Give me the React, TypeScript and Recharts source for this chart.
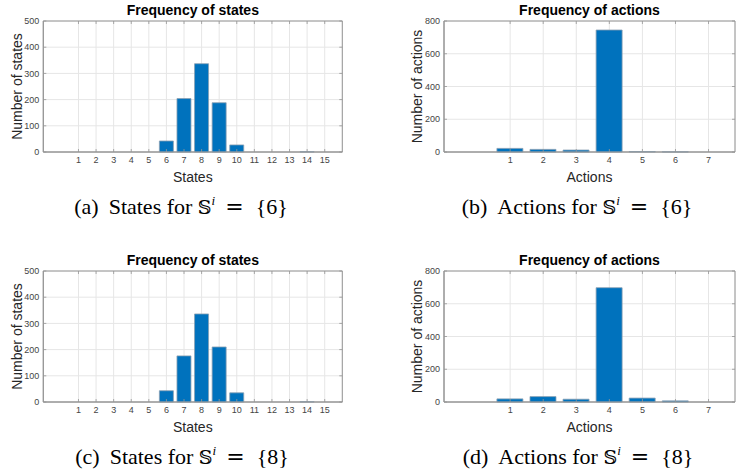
import React from 'react';
import { BarChart, Bar, XAxis, YAxis, CartesianGrid, ReferenceArea } from 'recharts';

// ---- data ----
const stateCategories = [1, 2, 3, 4, 5, 6, 7, 8, 9, 10, 11, 12, 13, 14, 15];
const stateCountsA = [0, 0, 0, 0, 0, 42, 204, 337, 188, 27, 0, 0, 0, 1, 0];
const stateCountsC = [0, 0, 0, 0, 0, 43, 176, 336, 210, 35, 0, 0, 0, 1, 0];
const stateYTicks = [0, 100, 200, 300, 400, 500];

const actionCategories = [1, 2, 3, 4, 5, 6, 7];
const actionCountsB = [22, 16, 12, 745, 3, 1, 0];
const actionCountsD = [19, 33, 17, 698, 24, 7, 0];
const actionYTicks = [0, 200, 400, 600, 800];

const captions = [
  { tag: '(a)', word: 'States', set: '6' },
  { tag: '(b)', word: 'Actions', set: '6' },
  { tag: '(c)', word: 'States', set: '8' },
  { tag: '(d)', word: 'Actions', set: '8' },
];

const toRows = (cats: number[], vals: number[]) => cats.map((c, i) => ({ x: c, count: vals[i] }));

const FRAME = '#969696';
const GRID = '#e6e6e6';
const TICK_TXT = '#444444';
const LABEL = '#262626';
const BAR = '#0072BD';
const SANS = '"Liberation Sans", Arial, Helvetica, sans-serif';

type PanelProps = {
  left: number;
  top: number;
  rows: { x: number; count: number }[];
  xTicks: number[];
  xDomain: [number, number];
  yTicks: number[];
  yMax: number;
  title: string;
  xLabel: string;
  yLabel: string;
  yAxisWidth: number;
  yLabelOffset: number;
  marginRight: number;
};

const W = 368;
const H = 200;
const M_TOP = 21;
const M_BOTTOM = 18;
const X_AXIS_H = 30;
const TM = 5;
const YTM = 4;

function Panel(p: PanelProps) {
  const plotH = H - M_TOP - M_BOTTOM - X_AXIS_H;
  const plotW = W - p.yAxisWidth - p.marginRight;
  const XTick = (tp: any) => {
    const { x, y, payload } = tp;
    const ay = y - TM;
    return (
      <g>
        <line x1={x} x2={x} y1={ay} y2={ay - 3} stroke={FRAME} strokeWidth={0.8} />
        <line x1={x} x2={x} y1={ay - plotH} y2={ay - plotH + 3} stroke={FRAME} strokeWidth={0.8} />
        <text x={x} y={y} dy="0.71em" textAnchor="middle" fontSize={9} fontFamily={SANS} fill={TICK_TXT}>
          {payload.value}
        </text>
      </g>
    );
  };
  const YTick = (tp: any) => {
    const { x, y, payload } = tp;
    const ax = x + YTM;
    return (
      <g>
        <line x1={ax} x2={ax + 3} y1={y} y2={y} stroke={FRAME} strokeWidth={0.8} />
        <line x1={ax + plotW} x2={ax + plotW - 3} y1={y} y2={y} stroke={FRAME} strokeWidth={0.8} />
        <text x={x} y={y} dy="0.355em" textAnchor="end" fontSize={9} fontFamily={SANS} fill={TICK_TXT}>
          {payload.value}
        </text>
      </g>
    );
  };
  return (
    <div style={{ position: 'absolute', left: p.left, top: p.top, width: W, height: H }}>
      <div
        style={{
          position: 'absolute',
          left: p.yAxisWidth,
          width: plotW,
          top: 3,
          textAlign: 'center',
          fontFamily: SANS,
          fontWeight: 'bold',
          fontSize: 14,
          lineHeight: '14px',
          color: '#000',
          whiteSpace: 'nowrap',
        }}
      >
        {p.title}
      </div>
      <BarChart
        width={W}
        height={H}
        data={p.rows}
        margin={{ top: M_TOP, right: p.marginRight, bottom: M_BOTTOM, left: 0 }}
        barCategoryGap="10%"
      >
        <CartesianGrid stroke={GRID} strokeWidth={1} />
        <XAxis
          dataKey="x"
          type="number"
          domain={p.xDomain}
          ticks={p.xTicks}
          allowDataOverflow
          interval={0}
          height={X_AXIS_H}
          tickSize={0}
          tickMargin={TM}
          tickLine={false}
          tick={XTick}
          axisLine={{ stroke: FRAME, strokeWidth: 1 }}
          label={{ value: p.xLabel, position: 'insideBottom', offset: 0, fontSize: 14, fontFamily: SANS, fill: LABEL }}
        />
        <YAxis
          type="number"
          domain={[0, p.yMax]}
          ticks={p.yTicks}
          interval={0}
          width={p.yAxisWidth}
          tickSize={0}
          tickMargin={YTM}
          tickLine={false}
          tick={YTick}
          axisLine={{ stroke: FRAME, strokeWidth: 1 }}
          label={{
            value: p.yLabel,
            angle: -90,
            position: 'insideLeft',
            offset: p.yLabelOffset,
            style: { textAnchor: 'middle' },
            fontSize: 14,
            fontFamily: SANS,
            fill: LABEL,
          }}
        />
        <Bar dataKey="count" fill={BAR} stroke="#8aa0b3" strokeWidth={0.8} isAnimationActive={false} />
        <ReferenceArea
          x1={p.xDomain[0]}
          x2={p.xDomain[1]}
          y1={0}
          y2={p.yMax}
          fill="none"
          stroke={FRAME}
          strokeWidth={1}
          ifOverflow="visible"
        />
      </BarChart>
    </div>
  );
}

function Caption({ cx, top, c }: { cx: number; top: number; c: { tag: string; word: string; set: string } }) {
  return (
    <div
      style={{
        position: 'absolute',
        left: cx - 170,
        width: 340,
        top,
        textAlign: 'center',
        fontFamily: '"Liberation Serif", "Times New Roman", serif',
        fontSize: 22,
        lineHeight: '22px',
        color: '#000',
        whiteSpace: 'nowrap',
      }}
    >
      <span>{c.tag}</span>
      <span style={{ display: 'inline-block', width: 10 }} />
      <span>{c.word} for </span>
      <span style={{ fontFamily: '"DejaVu Serif", "DejaVu Sans", serif', fontSize: 19 }}>𝕊</span>
      <span style={{ fontStyle: 'italic', fontSize: 13, position: 'relative', top: -9 }}>i</span>
      <span style={{ display: 'inline-block', width: 10 }} />
      <span style={{ fontFamily: '"DejaVu Serif", serif' }}>=</span>
      <span style={{ display: 'inline-block', width: 12 }} />
      <span>{'{'}{c.set}{'}'}</span>
    </div>
  );
}

export default function App() {
  return (
    <div style={{ position: 'absolute', left: 0, top: 0, width: 736, height: 475, overflow: 'hidden', background: '#fff' }}>
      <Panel
        left={0}
        top={0}
        rows={toRows(stateCategories, stateCountsA)}
        xTicks={stateCategories}
        xDomain={[-1, 16]}
        yTicks={stateYTicks}
        yMax={500}
        title="Frequency of states"
        xLabel="States"
        yLabel="Number of states"
        yAxisWidth={43.3}
        yLabelOffset={17.5}
        marginRight={25.7}
      />
      <Panel
        left={368}
        top={0}
        rows={toRows(actionCategories, actionCountsB)}
        xTicks={actionCategories}
        xDomain={[-1, 7.8]}
        yTicks={actionYTicks}
        yMax={800}
        title="Frequency of actions"
        xLabel="Actions"
        yLabel="Number of actions"
        yAxisWidth={76}
        yLabelOffset={49}
        marginRight={1}
      />
      <Panel
        left={0}
        top={250}
        rows={toRows(stateCategories, stateCountsC)}
        xTicks={stateCategories}
        xDomain={[-1, 16]}
        yTicks={stateYTicks}
        yMax={500}
        title="Frequency of states"
        xLabel="States"
        yLabel="Number of states"
        yAxisWidth={43.3}
        yLabelOffset={17.5}
        marginRight={25.7}
      />
      <Panel
        left={368}
        top={250}
        rows={toRows(actionCategories, actionCountsD)}
        xTicks={actionCategories}
        xDomain={[-1, 7.8]}
        yTicks={actionYTicks}
        yMax={800}
        title="Frequency of actions"
        xLabel="Actions"
        yLabel="Number of actions"
        yAxisWidth={76}
        yLabelOffset={49}
        marginRight={1}
      />
      <Caption cx={181} top={196} c={captions[0]} />
      <Caption cx={577} top={196} c={captions[1]} />
      <Caption cx={182} top={446} c={captions[2]} />
      <Caption cx={578} top={446} c={captions[3]} />
    </div>
  );
}
